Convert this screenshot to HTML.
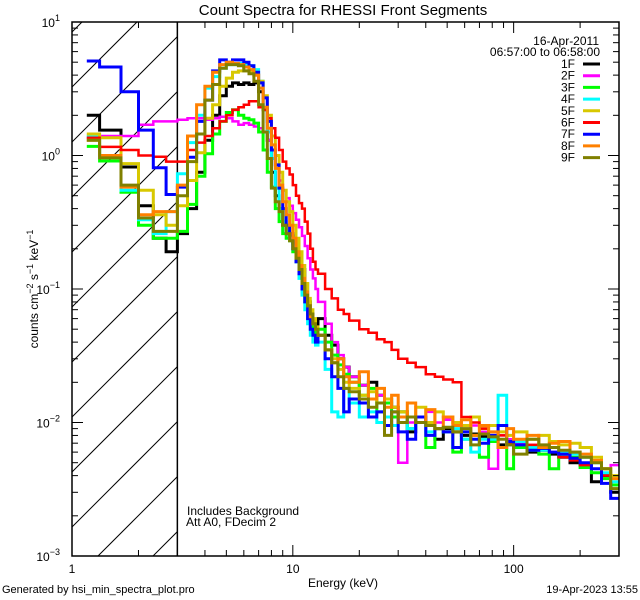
<!DOCTYPE html>
<html style="margin:0;width:640px;height:600px;overflow:hidden"><head><meta charset="utf-8"><style>
html,body{margin:0;padding:0;width:640px;height:600px;overflow:hidden;background:#fff;}
svg{display:block;font-family:"Liberation Sans",sans-serif;overflow:hidden;}
</style></head><body>
<svg id="chart" width="640" height="600" viewBox="0 0 640 600">
<defs><clipPath id="plotclip"><rect x="72" y="22" width="547" height="534"/></clipPath></defs>
<rect x="0" y="0" width="640" height="600" fill="#fff"/>
<text x="343" y="15" font-size="15" text-anchor="middle">Count Spectra for RHESSI Front Segments</text>
<g id="hatch"></g>
<g id="series" clip-path="url(#plotclip)"></g>
<g id="axes"></g>
<text x="187" y="515" font-size="12">Includes Background</text>
<text x="186" y="526" font-size="12">Att A0, FDecim 2</text>
<text x="599" y="45" font-size="12" text-anchor="end">16-Apr-2011</text>
<text x="600" y="56" font-size="12" text-anchor="end">06:57:00 to 06:58:00</text>
<g id="legend"></g>
<text x="343" y="587" font-size="12" text-anchor="middle">Energy (keV)</text>
<text transform="translate(38,289) rotate(-90)" font-size="12" text-anchor="middle">counts cm<tspan font-size="9" dy="-5">−2</tspan><tspan dy="5"> s</tspan><tspan font-size="9" dy="-5">−1</tspan><tspan dy="5"> keV</tspan><tspan font-size="9" dy="-5">−1</tspan></text>
<text x="2" y="593" font-size="11">Generated by hsi_min_spectra_plot.pro</text>
<text x="638" y="593" font-size="11" text-anchor="end">19-Apr-2023 13:55</text>
</svg>
<script>
const NS='http://www.w3.org/2000/svg';
const lowEdges=[1.1667,1.3333,1.6667,2,2.3333,2.6667,3,3.3333,3.6667,4,4.3333,4.6667,5,5.3333,5.6667,6,6.3333,6.6667,7,7.3333,7.6667,8,8.3333,8.6667,9,9.3333,9.6667,10,10.3333,10.6667,11,11.3333,11.6667,12,12.3333,12.6667,13];
const highEdges=[14,15,16,17,18,20,22,24,26,28,30,33,36,40,44,48,53,58,64,70,77,85,93,100,115,130,145,160,180,200,225,250,275,300];
const seriesNames=['1F','2F','3F','4F','5F','6F','7F','8F','9F'];
const seriesColors=['#000000','#ff00ff','#00ff00','#00ffff','#d8c800','#ff0000','#0000ff','#ff8000','#808000'];
const seriesWidths=[3,2.5,3,3,3,2.5,3,3,3];
const s1F=[2.0,1.55,0.82,0.42,0.24,0.19,0.26,0.40,0.75,1.3,2.0,2.8,3.3,3.5,3.4,3.5,3.4,3.5,3.0,2.2,1.3,0.75,0.5,0.40,0.30,0.26,0.25,0.22,0.19,0.17,0.14,0.11,0.08,0.065,0.055,0.048,
 0.06,0.045,0.038,0.03,0.026,0.022,0.019,0.020,0.016,0.015,0.013,0.012,0.0085,0.011,0.010,0.0075,0.009,0.0085,0.008,0.0082,0.0078,0.0072,0.0068,0.0070,0.0065,0.0060,0.0062,0.0058,0.0055,0.0050,0.0048,0.0036,0.0040,0.0030];
const s2F=[1.36,1.40,1.40,1.70,1.80,1.80,1.85,1.9,1.9,1.85,1.9,1.95,1.9,1.8,1.7,1.75,1.7,1.65,1.6,1.5,1.3,1.1,0.85,0.65,0.55,0.48,0.42,0.37,0.33,0.29,0.25,0.21,0.17,0.14,0.12,0.1,
 0.08,0.055,0.04,0.032,0.026,0.022,0.019,0.018,0.016,0.015,0.012,0.005,0.010,0.011,0.012,0.010,0.0105,0.009,0.009,0.0095,0.0085,0.0045,0.008,0.0075,0.007,0.0068,0.0062,0.007,0.006,0.0058,0.0055,0.0052,0.0042,0.0048];
const s3F=[1.17,0.91,0.53,0.3,0.24,0.24,0.27,0.43,0.7,1.03,1.45,1.8,2.1,2.2,2.0,1.9,1.85,1.75,1.5,1.1,0.75,0.58,0.4,0.32,0.26,0.24,0.23,0.19,0.16,0.13,0.1,0.08,0.065,0.055,0.048,0.042,
 0.05,0.04,0.032,0.027,0.023,0.02,0.016,0.018,0.012,0.014,0.011,0.012,0.009,0.010,0.0065,0.009,0.0085,0.006,0.0075,0.008,0.0055,0.0072,0.0065,0.0045,0.0065,0.0062,0.0058,0.0045,0.0058,0.0055,0.0046,0.0042,0.0038,0.0034];
const s4F=[1.4,0.98,0.55,0.33,0.26,0.38,0.73,1.25,2.0,3.2,3.9,4.5,4.8,4.8,4.9,4.8,4.7,4.4,3.6,2.3,1.5,0.95,0.57,0.4,0.32,0.27,0.24,0.2,0.16,0.12,0.09,0.07,0.055,0.045,0.04,0.038,
 0.04,0.025,0.012,0.011,0.018,0.014,0.011,0.012,0.010,0.011,0.0095,0.011,0.009,0.010,0.0085,0.009,0.0085,0.009,0.0075,0.006,0.0075,0.0075,0.016,0.0068,0.0072,0.0065,0.0062,0.0065,0.006,0.0058,0.0055,0.005,0.0042,0.0036];
const s5F=[1.45,1.36,0.87,0.55,0.36,0.3,0.42,0.65,1.05,1.9,2.4,3.3,3.8,4.2,4.3,4.3,4.3,4.0,3.6,2.8,2.0,1.4,1.0,0.75,0.55,0.45,0.38,0.3,0.24,0.19,0.15,0.11,0.085,0.07,0.06,0.052,
 0.045,0.035,0.03,0.025,0.02,0.018,0.016,0.017,0.014,0.015,0.013,0.012,0.011,0.013,0.010,0.012,0.011,0.010,0.0095,0.011,0.009,0.0095,0.0085,0.008,0.0085,0.0075,0.008,0.0072,0.0068,0.007,0.0065,0.0055,0.0045,0.004];
const s6F=[1.36,1.16,1.1,1.0,0.98,0.9,0.9,1.1,1.25,1.4,1.6,1.8,2.0,2.2,2.3,2.4,2.55,2.55,2.3,2.2,1.9,1.6,1.36,1.1,0.9,0.8,0.72,0.6,0.5,0.44,0.4,0.32,0.26,0.2,0.16,0.14,
 0.13,0.1,0.085,0.07,0.065,0.058,0.05,0.047,0.042,0.04,0.035,0.03,0.028,0.026,0.023,0.022,0.021,0.02,0.011,0.010,0.009,0.0085,0.008,0.007,0.0075,0.0068,0.0065,0.006,0.0055,0.0052,0.0048,0.0045,0.004,0.0032];
const s7F=[5.1,4.6,3.0,1.55,0.81,0.51,0.58,0.97,1.8,2.6,4.3,5.2,5.0,5.2,5.2,5.0,4.7,4.2,3.5,2.7,1.8,1.1,0.85,0.57,0.4,0.3,0.26,0.2,0.16,0.13,0.1,0.08,0.06,0.05,0.045,0.04,
 0.045,0.03,0.022,0.018,0.012,0.015,0.014,0.011,0.012,0.0095,0.012,0.0085,0.0075,0.011,0.008,0.009,0.0085,0.0065,0.0085,0.0075,0.007,0.008,0.0095,0.0072,0.0068,0.0062,0.0064,0.006,0.0058,0.0054,0.005,0.0045,0.0035,0.0027];
const s8F=[1.3,1.0,0.58,0.36,0.38,0.38,0.6,1.4,2.4,3.3,4.2,4.8,5.0,4.9,4.8,4.6,4.4,4.0,3.2,2.3,1.6,1.2,0.8,0.6,0.45,0.36,0.3,0.24,0.19,0.15,0.12,0.095,0.075,0.062,0.055,0.05,
 0.045,0.035,0.028,0.03,0.022,0.02,0.024,0.015,0.018,0.013,0.016,0.011,0.014,0.010,0.0125,0.009,0.011,0.0095,0.0105,0.008,0.0095,0.0085,0.0065,0.009,0.0075,0.008,0.0065,0.007,0.0072,0.006,0.0058,0.0052,0.0045,0.0038];
const s9F=[1.3,0.96,0.6,0.34,0.27,0.27,0.5,0.9,1.45,2.6,3.4,4.5,4.8,4.8,4.7,4.3,4.1,3.6,2.4,1.5,0.95,0.57,0.45,0.38,0.3,0.26,0.23,0.2,0.17,0.14,0.11,0.09,0.075,0.065,0.055,0.05,
 0.045,0.035,0.028,0.022,0.018,0.017,0.015,0.013,0.014,0.008,0.012,0.010,0.011,0.010,0.0095,0.009,0.0092,0.0085,0.009,0.0068,0.0082,0.0078,0.0075,0.0068,0.0058,0.0075,0.0068,0.0065,0.0062,0.006,0.0055,0.005,0.0045,0.0032];
const seriesValues=[s1F,s2F,s3F,s4F,s5F,s6F,s7F,s8F,s9F];
const yTickExps=[1,0,-1,-2,-3];
const xTickLabels=['1','10','100'];
const xTickValues=[1,10,100];

const X0=72,X1=619,Y0=22,Y1=556,XMIN=1,XMAX=300,YMIN=1e-3,YMAX=10;
function xs(e){return X0+(Math.log10(e)-Math.log10(XMIN))/(Math.log10(XMAX)-Math.log10(XMIN))*(X1-X0);}
function ys(v){return Y1-(Math.log10(v)-Math.log10(YMIN))/(Math.log10(YMAX)-Math.log10(YMIN))*(Y1-Y0);}
const edges=lowEdges.concat(highEdges);

const hatch=document.getElementById('hatch');
const HX1=xs(3);
for(let k=-12;k<14;k++){
  // line y = y0 - (x-72), for x in [72,HX1], clipped to [Y0,Y1]
  const y0=472+k*55;
  let xa=72,xb=HX1;
  xa=Math.max(xa,72+(y0-Y1));
  xb=Math.min(xb,72+(y0-Y0));
  if(xb<=xa)continue;
  const l=document.createElementNS(NS,'line');
  l.setAttribute('x1',xa);l.setAttribute('y1',y0-(xa-72));
  l.setAttribute('x2',xb);l.setAttribute('y2',y0-(xb-72));
  l.setAttribute('stroke','#000');l.setAttribute('stroke-width','1');
  
  
  hatch.appendChild(l);
}
const vl=document.createElementNS(NS,'line');
vl.setAttribute('x1',HX1);vl.setAttribute('x2',HX1);vl.setAttribute('y1',Y0);vl.setAttribute('y2',Y1);
vl.setAttribute('stroke','#000');vl.setAttribute('stroke-width','1.5');


document.getElementById('series').appendChild(vl);

const sg=document.getElementById('series');
seriesValues.forEach((vals,si)=>{
  let d='';
  for(let i=0;i<vals.length;i++){
    const xa=xs(edges[i]).toFixed(1),xb=xs(edges[i+1]).toFixed(1),y=ys(vals[i]).toFixed(1);
    d+=(i===0?'M':'L')+xa+','+y+'L'+xb+','+y;
  }
  const p=document.createElementNS(NS,'path');
  p.setAttribute('d',d);p.setAttribute('fill','none');
  p.setAttribute('stroke',seriesColors[si]);p.setAttribute('stroke-width',seriesWidths[si]);
  
  
  sg.appendChild(p);
});

const ax=document.getElementById('axes');
function line(x1,y1,x2,y2,w){const l=document.createElementNS(NS,'line');l.setAttribute('x1',x1);l.setAttribute('y1',y1);l.setAttribute('x2',x2);l.setAttribute('y2',y2);l.setAttribute('stroke','#000');l.setAttribute('stroke-width',w||1);ax.appendChild(l);return l;}
const fr=document.createElementNS(NS,'rect');
fr.setAttribute('x',X0);fr.setAttribute('y',Y0);fr.setAttribute('width',X1-X0);fr.setAttribute('height',Y1-Y0);
fr.setAttribute('fill','none');fr.setAttribute('stroke','#000');fr.setAttribute('stroke-width','1.5');


ax.appendChild(fr);
for(let d=-3;d<1;d++){for(let m=1;m<10;m++){const v=m*Math.pow(10,d);const y=ys(v);const L=m===1?11:6;
  const t1=line(X0,y,X0+L,y);
  const t2=line(X1-L,y,X1,y);}}
for(let d=0;d<3;d++){for(let m=1;m<10;m++){const v=m*Math.pow(10,d);if(v>XMAX)break;const x=xs(v);const L=m===1?11:6;
  const t1=line(x,Y1-L,x,Y1);
  const t2=line(x,Y0,x,Y0+L);}}
yTickExps.forEach(e=>{
  const t=document.createElementNS(NS,'text');
  t.setAttribute('x',60);t.setAttribute('y',ys(Math.pow(10,e))+5);t.setAttribute('font-size','12');t.setAttribute('text-anchor','end');
  t.innerHTML='10<tspan font-size="9" dy="-6">'+(e<0?'−'+(-e):e)+'</tspan>';
  
  
  ax.appendChild(t);
});
xTickValues.forEach((v,i)=>{
  const t=document.createElementNS(NS,'text');
  t.setAttribute('x',xs(v));t.setAttribute('y',573);t.setAttribute('font-size','12');t.setAttribute('text-anchor','middle');
  t.textContent=xTickLabels[i];
  
  
  ax.appendChild(t);
});

const lg=document.getElementById('legend');
seriesNames.forEach((n,i)=>{
  const y=64+i*11.7;
  const t=document.createElementNS(NS,'text');
  t.setAttribute('x',575);t.setAttribute('y',y+4);t.setAttribute('font-size','12');t.setAttribute('text-anchor','end');
  t.textContent=n;
  
  
  lg.appendChild(t);
  const l=document.createElementNS(NS,'line');
  l.setAttribute('x1',583);l.setAttribute('x2',600);l.setAttribute('y1',y);l.setAttribute('y2',y);
  l.setAttribute('stroke',seriesColors[i]);l.setAttribute('stroke-width','3');
  
  
  lg.appendChild(l);
});
</script>
</body></html>
